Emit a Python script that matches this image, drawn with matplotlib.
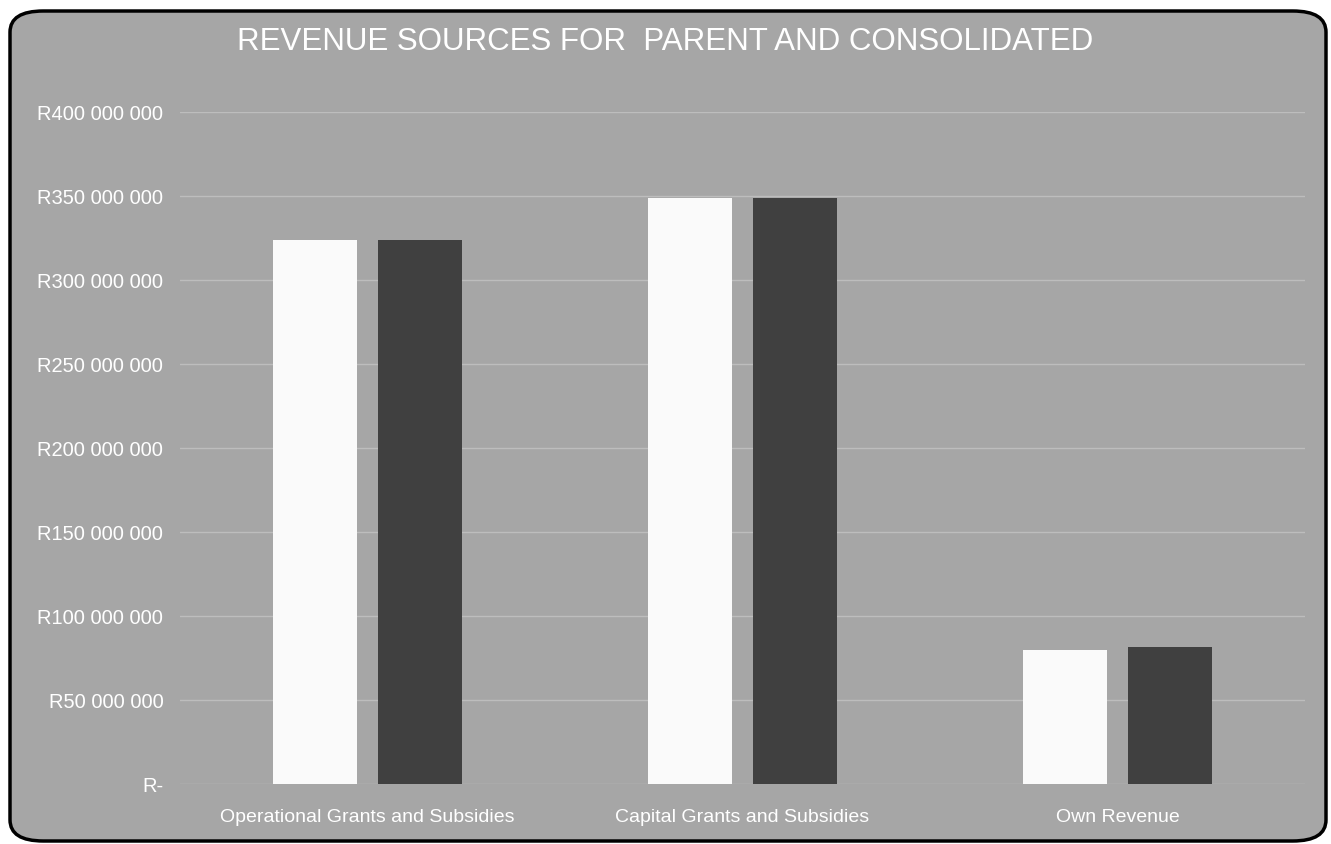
import numpy as np
import matplotlib.pyplot as plt
from matplotlib.patches import FancyBboxPatch

DPI = 100
IMG_SIZE = (1331, 845)  # (width, height)
BG = "#a6a6a6"

categories = ["Operational Grants and Subsidies", "Capital Grants and Subsidies", "Own Revenue"]
parent = [324e6, 349e6, 80e6]
consolidated = [324e6, 349e6, 81.5e6]
yticks = [0, 50e6, 100e6, 150e6, 200e6, 250e6, 300e6, 350e6, 400e6]
ytick_labels = ["R-", "R50 000 000", "R100 000 000", "R150 000 000", "R200 000 000",
                "R250 000 000", "R300 000 000", "R350 000 000", "R400 000 000"]

plt.rcParams['font.family'] = ['Liberation Sans', 'DejaVu Sans']

fig = plt.figure(figsize=(IMG_SIZE[0]/DPI, IMG_SIZE[1]/DPI), dpi=DPI)
fig.patch.set_facecolor("white")

# rounded chart frame, kept under the axes
frame = FancyBboxPatch((10/1331, 3/845), 1316/1331, 830/845,
                       boxstyle="round,pad=0,rounding_size=0.025",
                       transform=fig.transFigure, facecolor=BG,
                       edgecolor="black", linewidth=2.5, zorder=-5)
fig.patches.append(frame)

ax = fig.add_axes([180/1331, 60/845, 1125/1331, 672/845])
ax.set_zorder(2)
ax.set_facecolor("none")

x = np.arange(len(categories))
w = 0.224
off = 0.141
ax.bar(x - off, parent, w, color="#fafafa", zorder=3)
ax.bar(x + off, consolidated, w, color="#404040", zorder=3)

ax.set_xlim(-0.5, len(categories) - 0.5)
ax.set_ylim(0, 400e6)
ax.set_yticks(yticks)
ax.set_yticklabels(ytick_labels)
ax.set_xticks(x)
ax.set_xticklabels(categories)
ax.tick_params(axis="both", length=0, colors="white", labelsize=14.5)
ax.tick_params(axis="x", pad=17, labelsize=14)
ax.tick_params(axis="y", pad=12)
ax.grid(axis="y", color="#bdbdbd", linewidth=1, zorder=1)
for s in ax.spines.values():
    s.set_visible(False)

fig.text(0.5, 1 - 42/845, "REVENUE SOURCES FOR  PARENT AND CONSOLIDATED",
         ha="center", va="center", color="white", fontsize=22.5, zorder=5)

plt.savefig("out.png", dpi=DPI)
